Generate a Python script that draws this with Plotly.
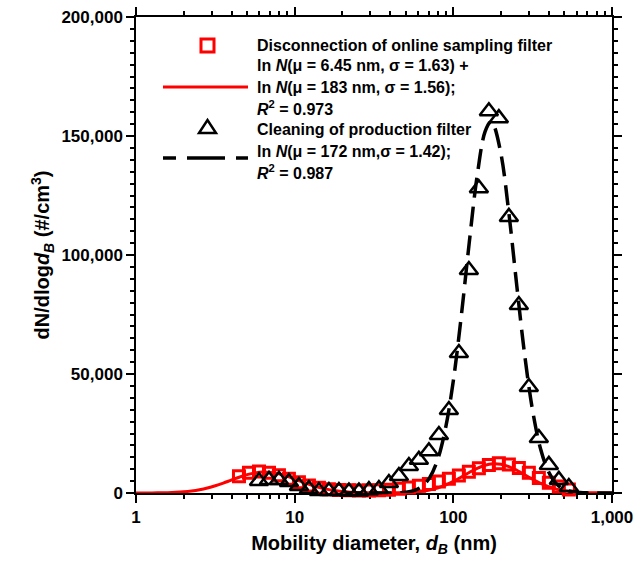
import plotly.graph_objects as go

FONT = "Liberation Sans, Arial, sans-serif"

# Measured size distributions (mobility diameter in nm, dN/dlogdB in #/cm3)
disc_d = [4.457, 5.152, 5.96, 6.89, 7.96, 9.20, 10.64, 12.30, 14.22, 16.44, 19.01,
          21.98, 25.41, 29.38, 33.96, 39.26, 45.39, 52.48, 60.67, 70.15, 81.10,
          93.76, 108.4, 125.3, 144.9, 167.5, 193.6, 223.9, 258.8, 299.2, 345.9,
          400.0, 462.4, 534.6]
disc_n = [7000, 8500, 9000, 8500, 7500, 6000, 4500, 3200, 2200, 1600, 1300,
          1200, 1100, 1100, 1200, 1400, 1800, 2300, 3000, 3800, 4800,
          6000, 7400, 8900, 10400, 11800, 12500, 12000, 10500, 8500, 6300,
          4300, 2700, 1500]

clean_d = [5.96, 6.89, 7.96, 9.20, 10.64, 12.30, 14.22, 16.44, 19.01, 21.98,
           25.41, 29.38, 33.96, 39.26, 45.39, 52.48, 60.67, 70.15, 81.10, 93.76,
           108.4, 125.3, 144.9, 167.5, 193.6, 223.9, 258.8, 299.2, 345.9, 400.0,
           462.4, 534.6]
clean_n = [5000, 5500, 5500, 4600, 2900, 1700, 800, 800, 800, 600,
           600, 1200, 1700, 4200, 7100, 11300, 14000, 17500, 24400, 34900,
           58800, 93700, 128000, 160400, 157500, 116000, 79000, 44500, 23100, 11800,
           5500, 2500]

# Lognormal fits
fit_disc_d = [1, 1.259, 1.585, 1.778, 1.995, 2.239, 2.512, 2.818, 3.162, 3.548,
              3.981, 4.467, 5.012, 5.623, 6.310, 7.079, 7.943, 8.913, 10, 11.22,
              12.59, 14.13, 15.85, 17.78, 19.95, 22.39, 25.12, 28.18, 31.62, 35.48,
              39.81, 44.67, 50.12, 56.23, 63.10, 70.79, 79.43, 89.13, 100, 112.2,
              125.9, 141.3, 158.5, 177.8, 199.5, 223.9, 251.2, 281.8, 316.2, 354.8,
              398.1, 446.7, 501.2, 562.3, 631.0, 707.9, 794.3, 1000]
fit_disc_n = [6, 33, 142, 272, 493, 844, 1368, 2095, 3038, 4165,
              5404, 6633, 7702, 8459, 8791, 8642, 8037, 7071, 5885, 4634,
              3451, 2432, 1621, 1023, 610, 344, 185, 95, 49, 34,
              43, 83, 177, 364, 699, 1257, 2113, 3322, 4884, 6715,
              8633, 10380, 11673, 12274, 12070, 11101, 9547, 7678, 5775, 4061,
              2672, 1643, 945, 508, 256, 120, 53, 8]

fit_clean_d = [20, 25.12, 31.62, 39.81, 44.67, 50.12, 56.23, 63.10, 70.79, 79.43,
               89.13, 100, 112.2, 125.9, 141.3, 158.5, 172, 177.8, 199.5, 223.9,
               251.2, 281.8, 316.2, 354.8, 398.1, 446.7, 501.2, 562.3, 631.0, 707.9,
               794.3, 1000]
fit_clean_n = [0, 0, 2, 26, 96, 322, 969, 2613, 6336, 13776,
               26928, 47206, 74303, 105000, 133255, 151819, 156000, 155294, 142615, 117593,
               87048, 57860, 34523, 18502, 8892, 3845, 1490, 519, 162, 45,
               12, 0]

x_tickvals = [1, 10, 100, 1000]
x_ticktext = ["1", "10", "100", "1,000"]
y_tickvals = [0, 50000, 100000, 150000, 200000]

RED = "#ff0000"
BLACK = "#000000"

fig = go.Figure()
fig.add_trace(go.Scatter(x=fit_disc_d, y=fit_disc_n, mode="lines",
                         line=dict(color=RED, width=3, shape="spline"),
                         cliponaxis=False, showlegend=False))
fig.add_trace(go.Scatter(x=disc_d, y=disc_n, mode="markers",
                         marker=dict(symbol="square-open", size=11, color=RED,
                                     line=dict(width=3, color=RED)),
                         cliponaxis=False, showlegend=False))
fig.add_trace(go.Scatter(x=fit_clean_d, y=fit_clean_n, mode="lines",
                         line=dict(color=BLACK, width=3.5, dash="20px,9px", shape="spline"),
                         cliponaxis=False, showlegend=False))
fig.add_trace(go.Scatter(x=clean_d, y=clean_n, mode="markers",
                         marker=dict(symbol="triangle-up-open", size=16, color=BLACK,
                                     line=dict(width=2.5, color=BLACK)),
                         cliponaxis=False, showlegend=False))

# Plot area in pixels: x 136..612, y 17..493
L, T, W, H = 136, 17, 476, 476


def px(xp):
    return (xp - L) / W


def py(yp):
    return (T + H - yp) / H


shapes = []
# Legend keys
shapes.append(dict(type="rect", xref="paper", yref="paper",
                   x0=px(201), x1=px(214), y0=py(52), y1=py(39),
                   line=dict(color=RED, width=3), fillcolor="rgba(0,0,0,0)"))
shapes.append(dict(type="line", xref="paper", yref="paper",
                   x0=px(163), x1=px(248), y0=py(87), y1=py(87),
                   line=dict(color=RED, width=3)))
shapes.append(dict(type="path", xref="paper", yref="paper",
                   path="M {} {} L {} {} L {} {} Z".format(px(199), py(133), px(216), py(133),
                                                          px(207.5), py(120)),
                   line=dict(color=BLACK, width=2.5), fillcolor="rgba(0,0,0,0)"))
for x0, x1 in [(163, 176), (187, 225), (236, 248)]:
    shapes.append(dict(type="line", xref="paper", yref="paper",
                       x0=px(x0), x1=px(x1), y0=py(158), y1=py(158),
                       line=dict(color=BLACK, width=3.5)))

legend_lines = [
    (45, "Disconnection of online sampling filter"),
    (66, "ln <i>N</i>(\u03bc = 6.45 nm, \u03c3 = 1.63) +"),
    (87, "ln <i>N</i>(\u03bc = 183 nm, \u03c3 = 1.56);"),
    (108, "<i>R</i><sup>2</sup> = 0.973"),
    (129, "Cleaning of production filter"),
    (151, "ln <i>N</i>(\u03bc = 172 nm,\u03c3 = 1.42);"),
    (172, "<i>R</i><sup>2</sup> = 0.987"),
]
annotations = []
for yp, txt in legend_lines:
    annotations.append(dict(xref="paper", yref="paper", x=px(255), y=py(yp),
                            xanchor="left", yanchor="middle", showarrow=False,
                            text=txt, font=dict(family=FONT, size=16, color=BLACK,
                                                weight="bold")))

axis_common = dict(
    showline=True, linecolor=BLACK, linewidth=1.5, mirror="ticks",
    ticks="outside", ticklen=8, tickwidth=1.5, tickcolor=BLACK,
    showgrid=False, zeroline=False, layer="below traces", automargin=False,
    ticklabeloverflow="allow",
    tickfont=dict(family=FONT, size=17, color=BLACK, weight="bold"),
)

fig.update_layout(
    width=633, height=561,
    margin=dict(l=L, r=633 - L - W, t=T, b=561 - T - H),
    paper_bgcolor="white", plot_bgcolor="white",
    showlegend=False,
    shapes=shapes, annotations=annotations,
    xaxis=dict(type="log", range=[0, 3], tickvals=x_tickvals, ticktext=x_ticktext,
               minor=dict(ticks="outside", ticklen=4, tickwidth=1.5, tickcolor=BLACK,
                          dtick="D1", showgrid=False),
               title=dict(text="Mobility diameter, <i>d</i><sub><i>B</i></sub> (nm)",
                          font=dict(family=FONT, size=20, color=BLACK, weight="bold"),
                          standoff=10),
               **axis_common),
    yaxis=dict(range=[0, 200000], tickvals=y_tickvals, tickformat=",",
               minor=dict(ticks="outside", ticklen=4, tickwidth=1.5, tickcolor=BLACK,
                          dtick=5000, showgrid=False),
               title=dict(text="dN/dlog<i>d</i><sub><i>B</i></sub> (#/cm<sup>3</sup>)",
                          font=dict(family=FONT, size=20, color=BLACK, weight="bold"),
                          standoff=6),
               **axis_common),
)

fig.write_html("out.html")
